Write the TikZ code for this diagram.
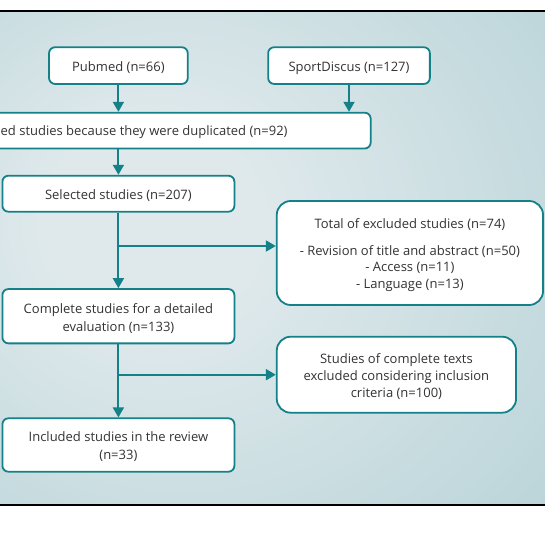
\documentclass[tikz,border=0pt]{standalone}
\usepackage{fontspec}
\setmainfont{Open Sans}
\usepackage{xcolor}
\usepackage{tikz}
\usetikzlibrary{arrows.meta}
\definecolor{flowteal}{HTML}{148087}
\definecolor{flowtext}{HTML}{333333}
\definecolor{bglight}{HTML}{DFE9EC}
\definecolor{bgdark}{HTML}{99C2C7}
\pgfdeclareradialshading{bgglow}{\pgfpoint{-13bp}{4bp}}{color(0bp)=(bglight); color(10bp)=(bglight); color(70bp)=(bgdark)}
\newcommand*{\topstrut}{\rule{0pt}{14pt}}

\begin{document}
\begin{tikzpicture}[x=1pt,y=-1pt,
		box/.style={draw=flowteal, line width=1.8pt, fill=white, rounded corners=6pt, inner sep=0pt,
			text=flowtext, align=center, font=\fontsize{13}{18}\selectfont},
		bigbox/.style={box, rounded corners=14pt},
		arr/.style={draw=flowteal, line width=1.9pt, -{Triangle[width=11pt,length=10pt]}}]
		\useasboundingbox (0,0) rectangle (545,545);
		\clip (0,0) rectangle (545,545);
		\shade[shading=bgglow] (0,11) rectangle (545,505);
		\draw[line width=1.2pt] (0,11) -- (545,11) (0,505) -- (545,505);
		\node[box, minimum width=138.7pt, minimum height=36.7pt] (pubmed) at (118.4,65.6) {\topstrut Pubmed (n=66)};
		\node[box, minimum width=161.7pt, minimum height=36.7pt] (sport) at (349,65.6) {\topstrut SportDiscus (n=127)};
		\node[box, minimum width=504.6pt, minimum height=35.8pt] (dup) at (118.4,130.6) {};
		\node[inner sep=0pt, anchor=west, text=flowtext, font=\fontsize{13}{18}\selectfont] (duptext) at (0.5,132.5) {ed studies because they were duplicated (n=92)};
		\node[box, minimum width=232pt, minimum height=36pt] (sel) at (118.4,193.7) {\topstrut Selected studies (n=207)};
		\node[bigbox, minimum width=266.3pt, minimum height=104pt, font=\fontsize{13}{16.8}\selectfont] (total) at (409.9,253)
			{\topstrut Total of excluded studies (n=74)\\[10pt] - Revision of title and abstract (n=50)\\ - Access (n=11)\\ - Language (n=13)};
		\node[box, minimum width=232pt, minimum height=54.3pt] (compl) at (118.4,316.2) {\topstrut Complete studies for a detailed\\ evaluation (n=133)};
		\node[bigbox, minimum width=239.3pt, minimum height=76pt, font=\fontsize{13}{17.2}\selectfont] (crit) at (396.4,374.7)
			{\topstrut Studies of complete texts\\ excluded considering inclusion\\ criteria (n=100)};
		\node[box, minimum width=232pt, minimum height=53.4pt] (incl) at (118.4,445) {\topstrut Included studies in the review\\ (n=33)};
		\coordinate (fork1) at (118.4,246);
		\coordinate (fork2) at (118.4,374.7);
		\draw[arr] (pubmed) -- (pubmed |- dup.north);
		\draw[arr] (sport) -- (sport |- dup.north);
		\draw[arr] (dup) -- (sel);
		\draw[arr] (sel) -- (compl);
		\draw[arr] (fork1) -- (fork1 -| total.west);
		\draw[arr] (compl) -- (incl);
		\draw[arr] (fork2) -- (crit);
	\end{tikzpicture}
\end{document}
